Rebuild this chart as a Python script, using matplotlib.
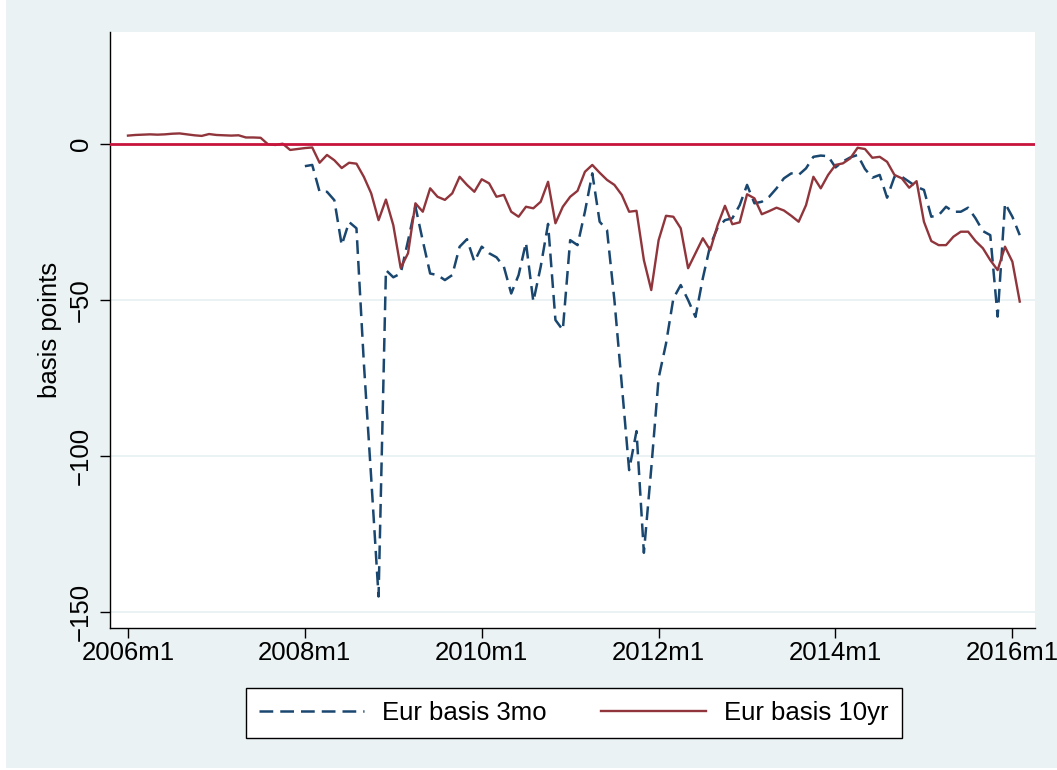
import numpy as np
import matplotlib
matplotlib.use("Agg")
import matplotlib.pyplot as plt
from matplotlib.patches import Rectangle
from matplotlib.lines import Line2D

# ---- data: monthly cross-currency basis, basis points ----
# month index 0 = 2006m1
start_10yr = 0
eur_basis_10yr = [
    2.7, 2.9, 3.0, 3.1, 3.0, 3.1, 3.3, 3.4, 3.1, 2.8, 2.6, 3.2, 2.9, 2.8, 2.7, 2.8, 2.1, 2.1,
    2.0, -0.1, -0.3, 0.1, -1.9, -1.6, -1.3, -1.1, -6.0, -3.5, -5.2, -7.7, -6.0, -6.3,
    -10.5, -15.8, -24.4, -17.8, -26.0, -39.7, -35.0, -19.0, -21.7, -14.2, -16.9, -17.9,
    -15.8, -10.5, -13.1, -15.3, -11.3, -12.6, -16.9, -16.3, -21.7, -23.3, -20.1, -20.6,
    -18.5, -12.1, -25.4, -20.1, -16.9, -15.0, -8.9, -6.7, -9.2, -11.5, -13.1, -16.3,
    -21.7, -21.4, -37.2, -46.8, -30.8, -23.0, -23.3, -27.0, -39.8, -35.0, -30.2, -34.0,
    -26.0, -19.8, -25.7, -25.1, -16.1, -17.4, -22.5, -21.5, -20.4, -21.3, -23.0, -24.9,
    -19.6, -10.5, -14.2, -9.9, -6.7, -6.2, -4.6, -1.2, -1.6, -4.4, -4.1, -5.7, -9.9,
    -11.0, -14.0, -11.9, -24.9, -31.1, -32.4, -32.4, -29.7, -28.1, -28.1, -31.1, -33.4,
    -37.2, -40.4, -32.9, -37.7, -50.5,
]

start_3mo = 24  # 2008m1
eur_basis_3mo = [
    -7.1, -6.7, -15.3, -15.3, -18.0, -32.4, -25.0, -27.0, -70.0, -107.0, -145.0, -40.4,
    -42.7, -41.5, -31.0, -20.0, -31.0, -41.5, -42.0, -43.6, -42.0, -32.9, -30.5, -37.7,
    -32.9, -35.0, -36.3, -39.3, -47.9, -42.0, -31.6, -50.5, -39.3, -25.6, -56.4, -59.6,
    -30.8, -32.4, -21.7, -9.4, -24.9, -27.6, -50.0, -77.0, -104.5, -92.0, -131.0, -104.0,
    -75.0, -64.0, -49.5, -45.2, -50.0, -55.4, -43.0, -32.5, -26.8, -24.4, -23.8, -19.6,
    -13.1, -19.0, -18.5, -16.9, -14.2, -11.0, -9.4, -9.9, -7.8, -4.1, -3.7, -3.9,
    -7.5, -5.6, -4.3, -3.5, -8.0, -10.8, -9.9, -17.2, -10.5, -10.5, -12.1, -13.7,
    -14.7, -23.3, -22.8, -20.1, -21.7, -21.7, -20.4, -23.8, -27.9, -29.2, -55.3, -19.0,
    -23.3, -29.2,
]

tick_years = [2006, 2008, 2010, 2012, 2014, 2016]
tick_labels = [f"{y}m1" for y in tick_years]
tick_months = [(y - 2006) * 12 for y in tick_years]
y_ticks = [0, -50, -100, -150]

x_10yr = np.arange(len(eur_basis_10yr)) + start_10yr
x_3mo = np.arange(len(eur_basis_3mo)) + start_3mo

# ---- figure ----
W, H = 1057, 770
plt.rcParams['font.family'] = ['Liberation Sans', 'DejaVu Sans']
FS = 18.5
BLUE, MAROON, ZERO_RED = '#1A476F', '#90353B', '#C8143C'
DASH = (0, (5.5, 2.8))

fig = plt.figure(figsize=(W / 100, H / 100), dpi=100, facecolor='white')
fig.patches.append(Rectangle((6 / W, 2 / H), (W - 6) / W, (H - 2) / H,
                             transform=fig.transFigure, facecolor='#EAF2F3',
                             edgecolor='none', zorder=-10))

ax = fig.add_axes([110 / W, (H - 628) / H, 925 / W, 596 / H])
ax.set_facecolor('white')

for g in [-50, -100, -150]:
    ax.axhline(g, color='#EAF2F3', lw=1.4, zorder=0)

ax.plot(x_3mo, eur_basis_3mo, color=BLUE, lw=1.8, linestyle=DASH, zorder=3)
ax.plot(x_10yr, eur_basis_10yr, color=MAROON, lw=1.7, zorder=3)
ax.axhline(0, color=ZERO_RED, lw=2.0, zorder=4)

ax.set_xlim(-2.44, 123.07)
ax.set_ylim(-155.1, 35.9)

ax.set_xticks(tick_months)
ax.set_xticklabels(tick_labels, fontsize=FS)
ax.set_yticks(y_ticks)
ax.set_yticklabels([f"{v}".replace('-', '\u2212') for v in y_ticks],
                   fontsize=FS, rotation=90, va='center')

ax.tick_params(axis='x', length=7.2, width=1, pad=2, colors='black')
ax.tick_params(axis='y', length=7.2, width=1, pad=5, colors='black')

for s in ['top', 'right']:
    ax.spines[s].set_visible(False)
for s in ['left', 'bottom']:
    ax.spines[s].set_linewidth(1.0)
    ax.spines[s].set_color('black')

ax.set_ylabel('basis points', fontsize=FS)
ax.yaxis.set_label_coords(-0.052, 0.5)

handles = [
    Line2D([], [], color=BLUE, lw=1.8, linestyle=DASH),
    Line2D([], [], color=MAROON, lw=1.7),
]
leg = fig.legend(handles, ['Eur basis 3mo', 'Eur basis 10yr'],
                 loc='center', bbox_to_anchor=(574 / W, 1 - 713 / H),
                 ncol=2, frameon=True, fancybox=False, edgecolor='black',
                 framealpha=1, handlelength=4.1, columnspacing=2.1,
                 handletextpad=0.7, borderpad=0.5, fontsize=FS)
leg.get_frame().set_linewidth(1.0)
leg.get_frame().set_facecolor('white')

fig.savefig('out.png', dpi=100, facecolor=fig.get_facecolor())
